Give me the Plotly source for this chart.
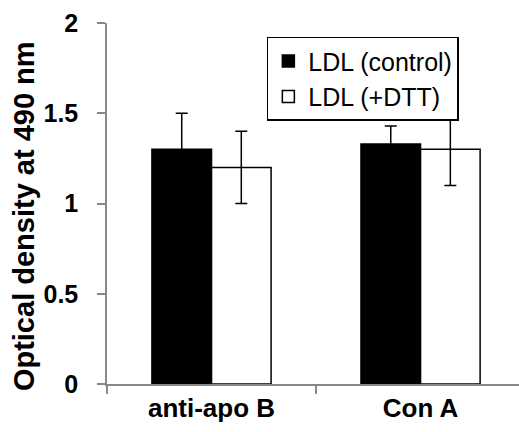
import plotly.graph_objects as go

categories = ["anti-apo B", "Con A"]
control_vals = [1.30, 1.33]
control_err = [0.20, 0.10]
dtt_vals = [1.20, 1.30]
dtt_err = [0.20, 0.20]
series_names = ["LDL (control)", "LDL (+DTT)"]
y_ticks = [0, 0.5, 1, 1.5, 2]
y_tick_labels = ["0", "0.5", "1", "1.5", "2"]
y_title = "Optical density at 490 nm"

FONT = "Liberation Sans, Arial, sans-serif"

fig = go.Figure()
fig.add_trace(go.Bar(
    x=categories, y=control_vals, name=series_names[0],
    marker=dict(color="black", line=dict(color="black", width=1.5)),
    error_y=dict(type="data", array=control_err, color="black", thickness=1.5, width=6),
))
fig.add_trace(go.Bar(
    x=categories, y=dtt_vals, name=series_names[1],
    marker=dict(color="white", line=dict(color="black", width=1.5)),
    error_y=dict(type="data", array=dtt_err, color="black", thickness=1.5, width=6),
))

fig.add_annotation(
    text=y_title, textangle=-90, showarrow=False,
    xref="paper", yref="paper", x=-0.2015, y=0.465,
    xanchor="center", yanchor="middle",
    font=dict(size=29, family=FONT, color="black", weight="bold"),
)

fig.update_layout(
    width=519, height=432,
    margin=dict(l=107, r=0, t=23, b=48),
    paper_bgcolor="white", plot_bgcolor="white",
    barmode="group", bargap=0.43, bargroupgap=0,
    font=dict(family=FONT, color="black"),
    showlegend=True,
    legend=dict(
        x=0.388, y=0.962, xanchor="left", yanchor="top",
        bgcolor="white", bordercolor="black", borderwidth=1.5,
        font=dict(size=25, family=FONT, color="black"),
        itemwidth=30, tracegroupgap=0,
    ),
    xaxis=dict(
        range=[-0.5, 1.471], showline=True, linecolor="#888888", linewidth=1.5,
        ticks="outside", tickson="boundaries", ticklen=8, tickcolor="#888888", tickwidth=1.5,
        tickfont=dict(size=26, family=FONT, color="black", weight="bold"),
        showgrid=False, zeroline=False,
    ),
    yaxis=dict(
        range=[0, 2], tickvals=y_ticks, ticktext=y_tick_labels,
        showline=True, linecolor="#888888", linewidth=1.5,
        ticks="outside", ticklen=8, tickcolor="#888888", tickwidth=1.5,
        ticklabelstandoff=14,
        tickfont=dict(size=25, family=FONT, color="black", weight="bold"),
        showgrid=False, zeroline=False,
    ),
)

fig.write_html("out.html")
